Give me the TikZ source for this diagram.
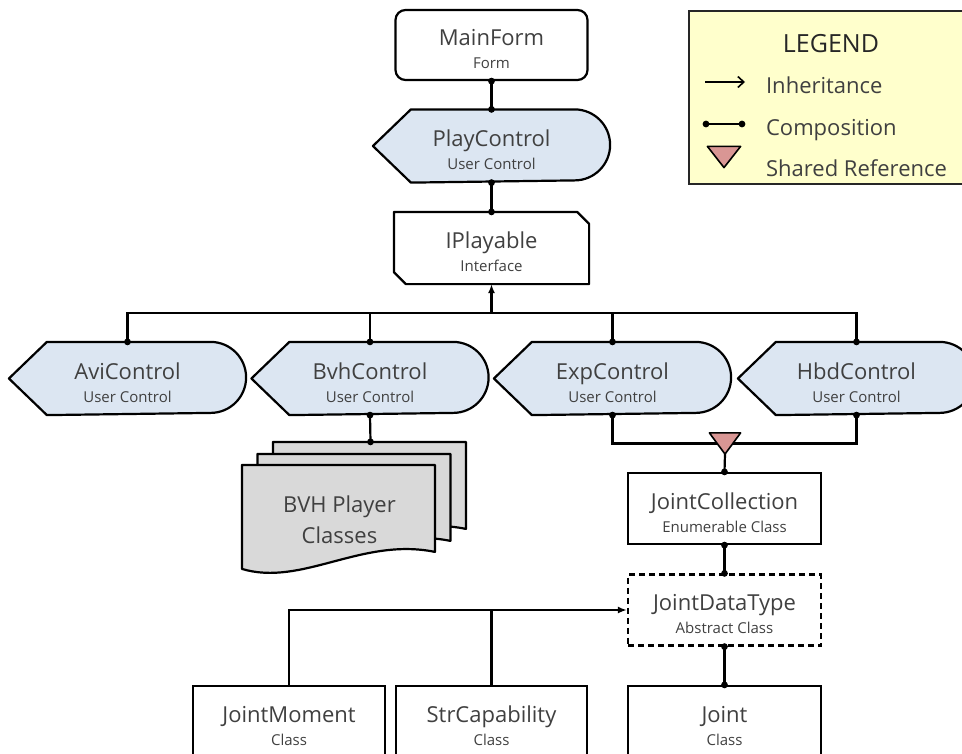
\documentclass[tikz,border=0pt]{standalone}
\usepackage{fontspec}
\setmainfont{Open Sans}
\usetikzlibrary{arrows.meta}
\definecolor{txt}{HTML}{404040}
\definecolor{ctrlblue}{HTML}{DCE6F2}
\definecolor{docgray}{HTML}{D9D9D9}
\definecolor{refpink}{HTML}{D99694}
\definecolor{legfill}{HTML}{FFFFCC}
\newcommand\lbl[3]{%
  \node[ttl] (#1-t) at ([yshift=-0.5pt]#1.center) {#2};
  \node[subt] (#1-s) at ([yshift=-23.5pt]#1.center) {#3};}
\newcommand\ctrlshape[1]{%
  \draw[ctrlshp] ([xshift=38pt]#1.north west) -- ([xshift=-35.5pt]#1.north east)
    arc[start angle=90, end angle=-90, radius=35.5pt]
    -- ([xshift=38pt]#1.south west) -- (#1.west) -- cycle;}
\newcommand\docpath{(0,0) -- (193,0) -- (193,87) .. controls (120,72) and (60,122) .. (0,104) -- cycle}
\newcommand\dotat[1]{\fill #1 circle (3.4pt);}
\begin{document}
\begin{tikzpicture}[x=1pt,y=-1pt, line width=2.2pt,
  slot/.style={minimum width=#1, minimum height=71pt, inner sep=0pt},
  umlbox/.style={slot=#1, draw},
  ttl/.style={text=txt, font=\fontsize{22}{26}\selectfont, anchor=base, inner sep=0pt},
  subt/.style={text=txt, font=\fontsize{15}{18}\selectfont, anchor=base, inner sep=0pt},
  legtxt/.style={text=txt, font=\fontsize{22}{26}\selectfont, anchor=base west, inner sep=0pt},
  inh/.style={-{Latex[length=9pt,width=7pt]}},
  ctrlshp/.style={fill=ctrlblue, line join=round},
  docshp/.style={fill=docgray, line join=round}
]
\clip (0,0) rectangle (962,753);

% ---------- nodes ----------
\node[slot=192pt, minimum height=70pt, draw, rounded corners=10pt] (main) at (491.5,45) {};
\node[slot=235pt] (play) at (491.5,146) {};
\node[slot=193pt, minimum height=70pt] (ip) at (491.5,248) {};
\node[slot=235pt] (avi) at (127.5,378.5) {};
\node[slot=235pt] (bvh) at (370,378.5) {};
\node[slot=235pt] (exp) at (612.5,378.5) {};
\node[slot=235pt] (hbd) at (856.5,378.5) {};
\node[umlbox=193pt] (jc) at (724.5,508.5) {};
\node[umlbox=193pt, dash pattern=on 6pt off 4pt] (jdt) at (724.5,610) {};
\node[umlbox=193pt] (joint) at (724.5,721.5) {};
\node[umlbox=192pt] (jm) at (289,721.5) {};
\node[umlbox=191pt] (sc) at (491.5,721.5) {};
\node[minimum width=193pt, minimum height=87pt, inner sep=0pt] (docfront) at (339.5,509.5) {};
\node[minimum width=193pt, minimum height=87pt, inner sep=0pt] (docmid) at (355,498.5) {};
\node[minimum width=193pt, minimum height=87pt, inner sep=0pt] (docback) at (370.5,486.5) {};
\node[minimum width=29pt, minimum height=19pt, inner sep=0pt] (tri) at (725,443.5) {};

% ---------- shapes ----------
\ctrlshape{play}
\ctrlshape{avi}
\ctrlshape{bvh}
\ctrlshape{exp}
\ctrlshape{hbd}
\draw[line join=round] (ip.north west) -- ([xshift=-12pt]ip.north east) -- ([yshift=-12pt]ip.north east)
  -- (ip.south east) -- ([xshift=12pt]ip.south west) -- ([yshift=12pt]ip.south west) -- cycle;
\draw[docshp, shift={(docback.north west)}] \docpath;
\draw[docshp, shift={(docmid.north west)}] \docpath;
\draw[docshp, shift={(docfront.north west)}] \docpath;

% ---------- connectors ----------
\draw (main.south) -- (play.north);
\draw (play.south) -- (ip.north);
\coordinate (bus) at (491.5,313);
\draw (avi.north) |- (bus) -| (hbd.north);
\draw (bvh.north) -- (bvh.north |- bus);
\draw (exp.north) -- (exp.north |- bus);
\draw[inh] (bus) -- (ip.south);
\draw (bvh.south) -- (docback.north);
\draw (exp.south) |- (tri.center) -| (hbd.south);
\draw (tri.south) -- (jc.north);
\fill[refpink] (tri.north west) -- (tri.north east) -- (tri.south) -- cycle;
\draw[line width=1.6pt, line join=round] (tri.north west) -- (tri.north east) -- (tri.south) -- cycle;
\draw (jc.south) -- (jdt.north);
\draw (jdt.south) -- (joint.north);
\draw[inh] (jm.north) |- (jdt.west);
\draw (sc.north) -- (sc.north |- jdt.west);

\dotat{(main.south)} \dotat{(play.north)} \dotat{(play.south)} \dotat{(ip.north)}
\dotat{(avi.north)} \dotat{(bvh.north)} \dotat{(exp.north)} \dotat{(hbd.north)}
\dotat{(bvh.south)} \dotat{(docback.north)}
\dotat{(exp.south)} \dotat{(hbd.south)} \dotat{(jc.north)}
\dotat{(jc.south)} \dotat{(jdt.north)} \dotat{(jdt.south)} \dotat{(joint.north)}

% ---------- labels ----------
\lbl{main}{MainForm}{Form}
\lbl{play}{PlayControl}{User Control}
\lbl{ip}{IPlayable}{Interface}
\lbl{avi}{AviControl}{User Control}
\lbl{bvh}{BvhControl}{User Control}
\lbl{exp}{ExpControl}{User Control}
\lbl{hbd}{HbdControl}{User Control}
\lbl{jc}{JointCollection}{Enumerable Class}
\lbl{jdt}{JointDataType}{Abstract Class}
\lbl{joint}{Joint}{Class}
\lbl{jm}{JointMoment}{Class}
\lbl{sc}{StrCapability}{Class}
\node[ttl] (doc-t1) at (339.5,512) {BVH Player};
\node[ttl] (doc-t2) at (339.5,543) {Classes};

% ---------- legend ----------
\node[draw=black!85, fill=legfill, minimum width=290pt, minimum height=173pt, inner sep=0pt, anchor=north west] (legend) at (688,10) {};
\node[text=black!85, font=\fontsize{25}{30}\selectfont, anchor=base, inner sep=0pt] (legt) at (831,52) {LEGEND};
\coordinate (i1) at (705,82); \coordinate (i2) at (745,82);
\draw[-{Straight Barb[length=6pt,width=11pt]}, line width=1.6pt] (i1) -- (i2);
\coordinate (c1) at (706,124); \coordinate (c2) at (742,124);
\draw[line width=1.6pt] (c1) -- (c2);
\dotat{(c1)} \dotat{(c2)}
\node[minimum width=31pt, minimum height=19pt, inner sep=0pt] (legtri) at (724,157) {};
\draw[fill=refpink, line width=1.6pt, line join=round] (legtri.north west) -- (legtri.north east) -- (legtri.south) -- cycle;
\node[legtxt] (l1) at (765,93) {Inheritance};
\node[legtxt] (l2) at (765,135) {Composition};
\node[legtxt] (l3) at (765,176) {Shared Reference};
\end{tikzpicture}
\end{document}
